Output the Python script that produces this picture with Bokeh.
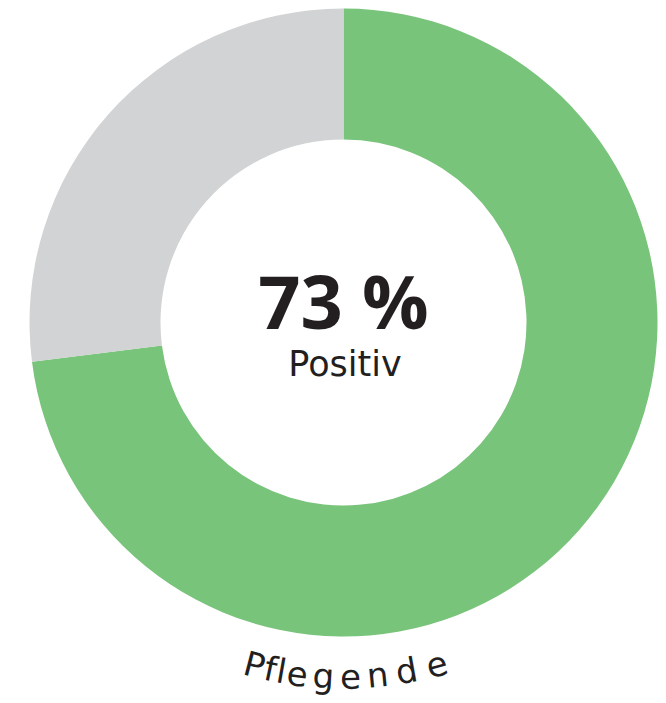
import math
from bokeh.plotting import figure
from bokeh.models import Range1d, ColumnDataSource
from bokeh.core.properties import value
from bokeh.embed import file_html
from bokeh.resources import INLINE

# ---- data ----
categories = ["Positiv", "Sonstige"]
values = [73, 27]
colors = ["#79C47B", "#D1D3D4"]
center_value = "73 %"
center_label = "Positiv"
group_label = "Pflegende"

# ---- layout ----
W, H = 666, 703
p = figure(width=W, height=H, x_range=Range1d(0, W), y_range=Range1d(0, H),
           output_backend="svg", toolbar_location=None, min_border=0)
p.axis.visible = False
p.grid.visible = False
p.outline_line_color = None
p.background_fill_color = "white"
p.border_fill_color = "white"

cx, cy = 343, 381
r_out, r_in = 314, 183
total = sum(values)
starts, ends = [], []
acc = 0
for v in values:
    a0 = math.pi / 2 - 2 * math.pi * acc / total
    acc += v
    a1 = math.pi / 2 - 2 * math.pi * acc / total
    starts.append(a1)
    ends.append(a0)

src = ColumnDataSource(dict(x=[cx] * len(values), y=[cy] * len(values),
                            start=starts, end=ends, color=colors, cat=categories))
p.annular_wedge(x="x", y="y", inner_radius=r_in, outer_radius=r_out,
                start_angle="start", end_angle="end", direction="anticlock",
                fill_color="color", line_color=None, source=src)

ink = "#231F20"
p.text(x=[343], y=[403], text=[center_value], text_font=value("Open Sans"),
       text_font_style="bold", text_font_size="74px", text_align="center",
       text_baseline="alphabetic", text_color=ink)
p.text(x=[344.5], y=[340], text=[center_label], text_font=value("DejaVu Sans"),
       text_font_size="35px", text_align="center",
       text_baseline="alphabetic", text_color=ink)

# curved label along the bottom of the ring
fs = 34
R_txt = 367 - 0.385 * fs
char_px = [254, 270, 281, 297, 323, 350, 377, 406, 436]  # centre x (page px) of each letter
xs, ys, angs, chars = [], [], [], []
for ch, px in zip(group_label, char_px):
    phi = math.asin((px - cx) / R_txt)
    xs.append(cx + R_txt * math.sin(phi))
    ys.append(cy - R_txt * math.cos(phi))
    angs.append(phi)
    chars.append(ch)
p.text(x=xs, y=ys, text=chars, angle=angs, text_font=value("DejaVu Sans"),
       text_font_size=f"{fs}px", text_align="center",
       text_baseline="alphabetic", text_color=ink)

open("out.html", "w").write(file_html(p, INLINE))
